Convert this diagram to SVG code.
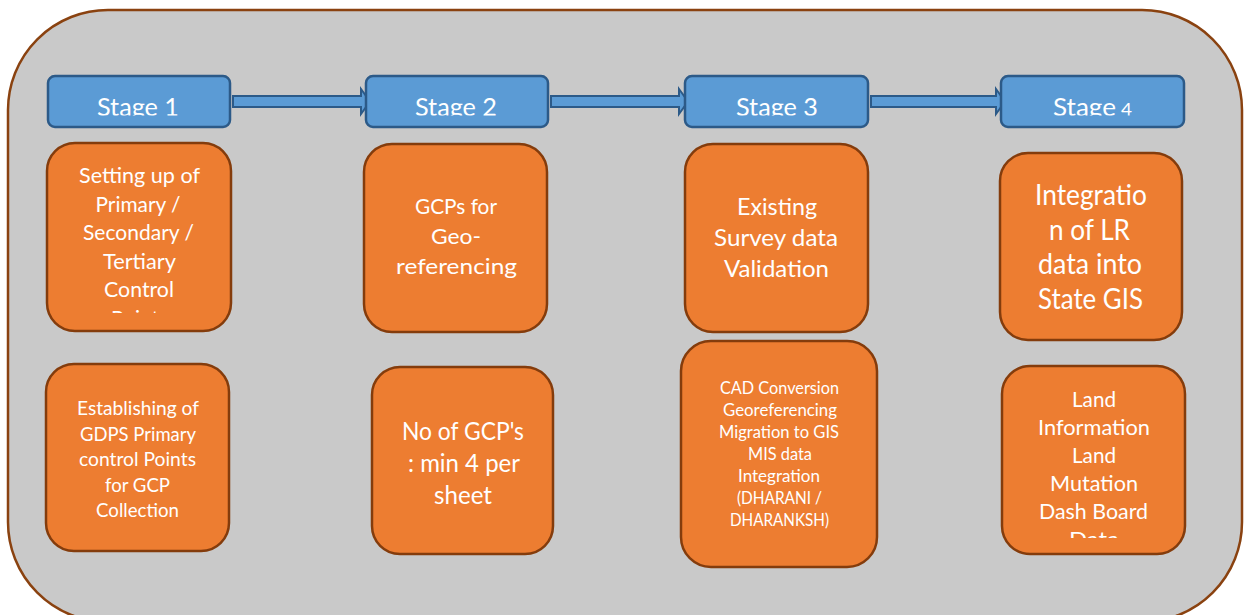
<svg xmlns="http://www.w3.org/2000/svg" width="1245" height="615" viewBox="0 0 1245 615">
  <defs>
    <style>
      .panel { fill: #c9c9c9; stroke: #8a4210; stroke-width: 2.5; }
      .stage { fill: #5b9bd5; stroke: #2c5a88; stroke-width: 2.5; }
      .task { fill: #ed7d31; stroke: #843c0c; stroke-width: 2.5; }
      .flow { fill: #5b9bd5; stroke: #2c5a88; stroke-width: 2; stroke-linejoin: miter; }
      text { font-family: Lato, "Liberation Sans", sans-serif; fill: #ffffff; text-anchor: middle; }
      .st { font-size: 25.5px; }
    </style>
    <!-- label boxes that cut off overflowing text -->
    <clipPath id="clipStage" clipPathUnits="userSpaceOnUse">
      <rect x="0" y="0" width="1245" height="115.5"/>
    </clipPath>
    <clipPath id="clipA1" clipPathUnits="userSpaceOnUse">
      <rect x="40" y="140" width="200" height="173"/>
    </clipPath>
    <clipPath id="clipD2" clipPathUnits="userSpaceOnUse">
      <rect x="995" y="360" width="200" height="178"/>
    </clipPath>
  </defs>

  <!-- background panel -->
  <rect class="panel" x="8" y="10" width="1234" height="612" rx="100" ry="100"/>

  <!-- stage flow arrows -->
  <g id="connectors">
    <polygon class="flow" points="233,96 361,96 361,89 370,101.5 361,114 361,107 233,107"/>
    <polygon class="flow" points="551,96 679,96 679,89 688,101.5 679,114 679,107 551,107"/>
    <polygon class="flow" points="871,96 996,96 996,89 1005,101.5 996,114 996,107 871,107"/>
  </g>

  <!-- stage headers -->
  <g id="stage1">
    <rect class="stage" x="48" y="76" width="182" height="51" rx="7"/>
    <text class="st" x="138" y="115.5" textLength="82" lengthAdjust="spacingAndGlyphs" clip-path="url(#clipStage)">Stage 1</text>
  </g>
  <g id="stage2">
    <rect class="stage" x="366" y="76" width="182" height="51" rx="7"/>
    <text class="st" x="456" y="115.5" textLength="82" lengthAdjust="spacingAndGlyphs" clip-path="url(#clipStage)">Stage 2</text>
  </g>
  <g id="stage3">
    <rect class="stage" x="685" y="76" width="183" height="51" rx="7"/>
    <text class="st" x="777" y="115.5" textLength="82" lengthAdjust="spacingAndGlyphs" clip-path="url(#clipStage)">Stage 3</text>
  </g>
  <g id="stage4">
    <rect class="stage" x="1001" y="76" width="183" height="51" rx="7"/>
    <text class="st" x="1053" y="115.5" style="text-anchor:start" clip-path="url(#clipStage)"><tspan textLength="63" lengthAdjust="spacingAndGlyphs">Stage</tspan><tspan x="1121" font-size="17" textLength="11" lengthAdjust="spacingAndGlyphs">4</tspan></text>
  </g>

  <!-- stage 1 tasks -->
  <g id="task-control-points">
    <rect class="task" x="47" y="143" width="184" height="188" rx="28"/>
    <g font-size="22" clip-path="url(#clipA1)">
      <text x="139.5" y="183" textLength="121" lengthAdjust="spacingAndGlyphs">Setting up of</text>
      <text x="138" y="211.5" textLength="85" lengthAdjust="spacingAndGlyphs">Primary /</text>
      <text x="138.5" y="240" textLength="111" lengthAdjust="spacingAndGlyphs">Secondary /</text>
      <text x="139.5" y="268.5" textLength="73" lengthAdjust="spacingAndGlyphs">Tertiary</text>
      <text x="139" y="297" textLength="70" lengthAdjust="spacingAndGlyphs">Control</text>
      <text x="139.5" y="325.5" textLength="57" lengthAdjust="spacingAndGlyphs">Points</text>
    </g>
  </g>
  <g id="task-gdps">
    <rect class="task" x="46" y="364" width="183" height="187" rx="28"/>
    <g font-size="19.5">
      <text x="138" y="415" textLength="122" lengthAdjust="spacingAndGlyphs">Establishing of</text>
      <text x="138" y="440.5" textLength="116" lengthAdjust="spacingAndGlyphs">GDPS Primary</text>
      <text x="137.5" y="466" textLength="117" lengthAdjust="spacingAndGlyphs">control Points</text>
      <text x="137.5" y="491.5" textLength="65" lengthAdjust="spacingAndGlyphs">for GCP</text>
      <text x="137.5" y="517" textLength="83" lengthAdjust="spacingAndGlyphs">Collection</text>
    </g>
  </g>

  <!-- stage 2 tasks -->
  <g id="task-gcps">
    <rect class="task" x="364" y="144" width="183" height="188" rx="28"/>
    <g font-size="21.5">
      <text x="456" y="214" textLength="82" lengthAdjust="spacingAndGlyphs">GCPs for</text>
      <text x="456" y="244" textLength="50" lengthAdjust="spacingAndGlyphs">Geo-</text>
      <text x="456.5" y="274" textLength="121" lengthAdjust="spacingAndGlyphs">referencing</text>
    </g>
  </g>
  <g id="task-gcp-count">
    <rect class="task" x="372" y="367" width="181" height="187" rx="28"/>
    <g font-size="25">
      <text x="463" y="440" textLength="122" lengthAdjust="spacingAndGlyphs">No of GCP's</text>
      <text x="464" y="472" textLength="112" lengthAdjust="spacingAndGlyphs">: min 4 per</text>
      <text x="463" y="504" textLength="58" lengthAdjust="spacingAndGlyphs">sheet</text>
    </g>
  </g>

  <!-- stage 3 tasks -->
  <g id="task-validation">
    <rect class="task" x="685" y="144" width="183" height="188" rx="28"/>
    <g font-size="23.5">
      <text x="777" y="215" textLength="80" lengthAdjust="spacingAndGlyphs">Existing</text>
      <text x="776" y="246" textLength="124" lengthAdjust="spacingAndGlyphs">Survey data</text>
      <text x="776.5" y="277" textLength="105" lengthAdjust="spacingAndGlyphs">Validation</text>
    </g>
  </g>
  <g id="task-cad">
    <rect class="task" x="681" y="341" width="196" height="226" rx="30"/>
    <g font-size="17.5">
      <text x="779.5" y="394" textLength="119" lengthAdjust="spacingAndGlyphs">CAD Conversion</text>
      <text x="780" y="416" textLength="114" lengthAdjust="spacingAndGlyphs">Georeferencing</text>
      <text x="779" y="438" textLength="120" lengthAdjust="spacingAndGlyphs">Migration to GIS</text>
      <text x="780" y="460" textLength="64" lengthAdjust="spacingAndGlyphs">MIS data</text>
      <text x="779" y="482" textLength="82" lengthAdjust="spacingAndGlyphs">Integration</text>
      <text x="779.5" y="504" textLength="85" lengthAdjust="spacingAndGlyphs">(DHARANI /</text>
      <text x="779.5" y="526" textLength="99" lengthAdjust="spacingAndGlyphs">DHARANKSH)</text>
    </g>
  </g>

  <!-- stage 4 tasks -->
  <g id="task-state-gis">
    <rect class="task" x="1000" y="153" width="182" height="187" rx="28"/>
    <g font-size="28">
      <text x="1091" y="205" textLength="112" lengthAdjust="spacingAndGlyphs">Integratio</text>
      <text x="1089.5" y="239.5" textLength="81" lengthAdjust="spacingAndGlyphs">n of LR</text>
      <text x="1090" y="274" textLength="104" lengthAdjust="spacingAndGlyphs">data into</text>
      <text x="1090.5" y="308.5" textLength="105" lengthAdjust="spacingAndGlyphs">State GIS</text>
    </g>
  </g>
  <g id="task-land-info">
    <rect class="task" x="1002" y="366" width="183" height="188" rx="28"/>
    <g font-size="21.5" clip-path="url(#clipD2)">
      <text x="1094" y="407" textLength="44" lengthAdjust="spacingAndGlyphs">Land</text>
      <text x="1094" y="435" textLength="112" lengthAdjust="spacingAndGlyphs">Information</text>
      <text x="1094" y="463" textLength="44" lengthAdjust="spacingAndGlyphs">Land</text>
      <text x="1094" y="491" textLength="88" lengthAdjust="spacingAndGlyphs">Mutation</text>
      <text x="1093.5" y="519" textLength="109" lengthAdjust="spacingAndGlyphs">Dash Board</text>
      <text x="1094" y="547" textLength="50" lengthAdjust="spacingAndGlyphs">Data</text>
    </g>
  </g>
</svg>
